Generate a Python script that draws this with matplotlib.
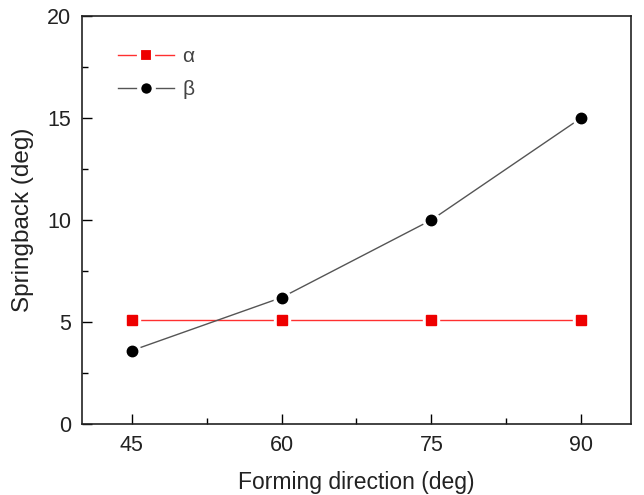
import matplotlib
matplotlib.use("Agg")
from matplotlib import pyplot as plt
from matplotlib.ticker import MultipleLocator
from matplotlib.lines import Line2D

plt.rcParams['font.family'] = ['Liberation Sans', 'DejaVu Sans']

# data
direction = [45, 60, 75, 90]
alpha = [5.1, 5.1, 5.1, 5.1]
beta = [3.6, 6.2, 10.0, 15.0]

fig = plt.figure(figsize=(6.44, 4.95), dpi=100)
ax = fig.add_axes([82 / 644, 1 - 424 / 495, 549 / 644, 408 / 495])

# lines first, then a white halo under each marker to get the gap look
ax.plot(direction, alpha, color='#ff3030', lw=1.0, zorder=2)
ax.plot(direction, beta, color='#555555', lw=1.0, zorder=2)
ax.plot(direction, alpha, ls='none', marker='s', ms=12, color='white', zorder=3)
ax.plot(direction, beta, ls='none', marker='o', ms=12, color='white', zorder=3)
ax.plot(direction, alpha, ls='none', marker='s', ms=6.5, color='#ee0000', zorder=4)
ax.plot(direction, beta, ls='none', marker='o', ms=7.5, color='black', zorder=4)

# legend handles: line with a gap around the marker
ha = Line2D([], [], color='#ff3030', lw=1.0, marker='s', ms=9.5, mfc='#ee0000', mec='white', mew=3)
hb = Line2D([], [], color='#555555', lw=1.0, marker='o', ms=10.5, mfc='black', mec='white', mew=3)
leg = ax.legend([ha, hb], ['α', 'β'], loc='upper left', frameon=False, fontsize=15,
                bbox_to_anchor=(0.05, 0.944), handlelength=2.7, handletextpad=0.4,
                labelspacing=0.68, borderaxespad=0)
for t in leg.get_texts():
    t.set_color('#444444')

ax.set_xlim(40, 95)
ax.set_ylim(0, 20)
ax.xaxis.set_major_locator(MultipleLocator(15))
ax.xaxis.set_minor_locator(MultipleLocator(7.5))
ax.yaxis.set_major_locator(MultipleLocator(5))
ax.yaxis.set_minor_locator(MultipleLocator(2.5))
ax.set_xticks([45, 60, 75, 90])
ax.tick_params(which='both', direction='in', top=False, right=False, labelsize=15.5,
               labelcolor='#222222', pad=8)
ax.tick_params(which='major', length=7, width=1)
ax.tick_params(which='minor', length=4, width=1)
for s in ax.spines.values():
    s.set_linewidth(1.2)
    s.set_color('#222222')

ax.set_xlabel('Forming direction (deg)', fontsize=16.5, labelpad=11, color='#222222')
ax.set_ylabel('Springback (deg)', fontsize=17.5, labelpad=9, color='#222222')

fig.savefig('out.png', dpi=100)
